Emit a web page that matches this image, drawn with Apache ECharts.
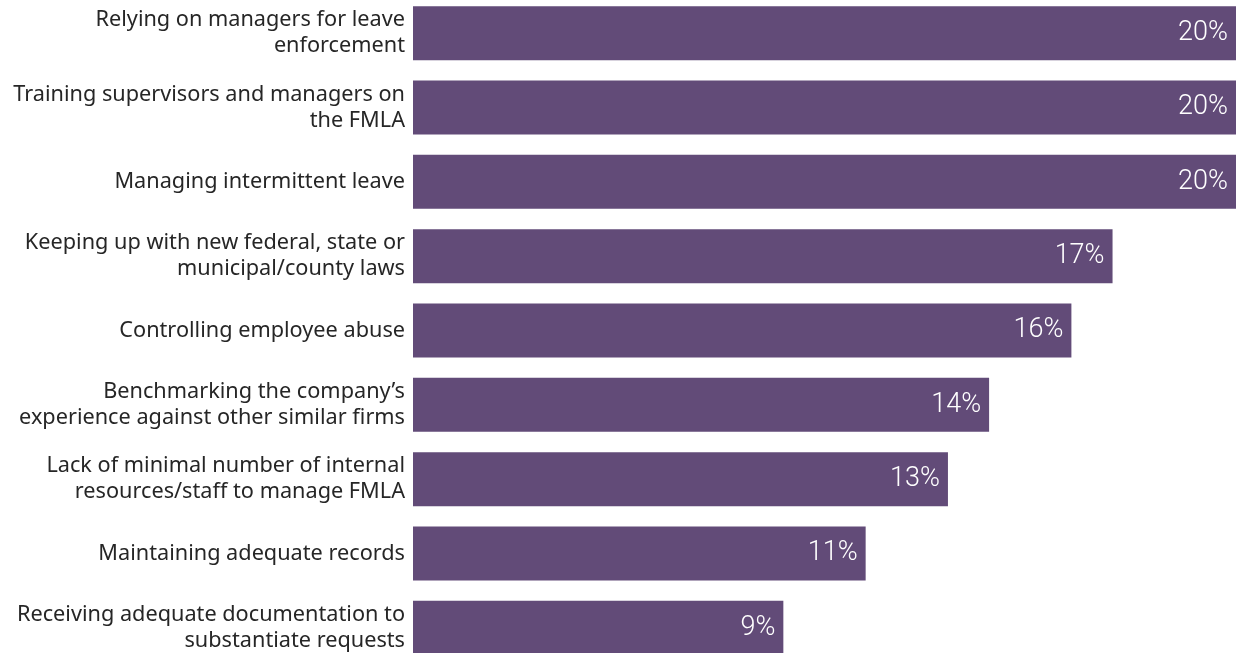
<!DOCTYPE html>
<html>
<head>
<meta charset="utf-8">
<script src="https://cdn.jsdelivr.net/npm/echarts@6/dist/echarts.min.js"></script>
<style>
  html, body { margin: 0; padding: 0; background: #ffffff; }
  #chart { width: 1236px; height: 653px; }
</style>
</head>
<body>
<div id="chart"></div>
<script>
// FMLA challenges, share of respondents (%), listed top to bottom
const categories = [
  'Relying on managers for leave\nenforcement',
  'Training supervisors and managers on\nthe FMLA',
  'Managing intermittent leave',
  'Keeping up with new federal, state or\nmunicipal/county laws',
  'Controlling employee abuse',
  'Benchmarking the company\u2019s\nexperience against other similar firms',
  'Lack of minimal number of internal\nresources/staff to manage FMLA',
  'Maintaining adequate records',
  'Receiving adequate documentation to\nsubstantiate requests'
];
const values = [20, 20, 20, 17, 16, 14, 13, 11, 9];

const chart = echarts.init(document.getElementById('chart'));
chart.setOption({
  animation: false,
  grid: { left: 413, right: 0, top: -4, height: 669, outerBoundsMode: 'none' },
  xAxis: {
    type: 'value', min: 0, max: 20,
    show: false
  },
  yAxis: {
    type: 'category',
    inverse: true,
    data: categories,
    axisLine: { show: false },
    axisTick: { show: false },
    axisLabel: {
      margin: 8,
      color: '#262626',
      fontFamily: '"Noto Sans", sans-serif',
      fontSize: 21.7,
      lineHeight: 26,
      align: 'right'
    }
  },
  series: [{
    type: 'bar',
    data: values,
    barWidth: 54,
    itemStyle: { color: '#624b78' },
    label: {
      show: true,
      position: 'insideRight',
      distance: 8,
      formatter: '{c}%',
      color: '#ffffff',
      fontFamily: 'Roboto, sans-serif',
      fontWeight: 300,
      fontSize: 27
    }
  }]
});
</script>
</body>
</html>
